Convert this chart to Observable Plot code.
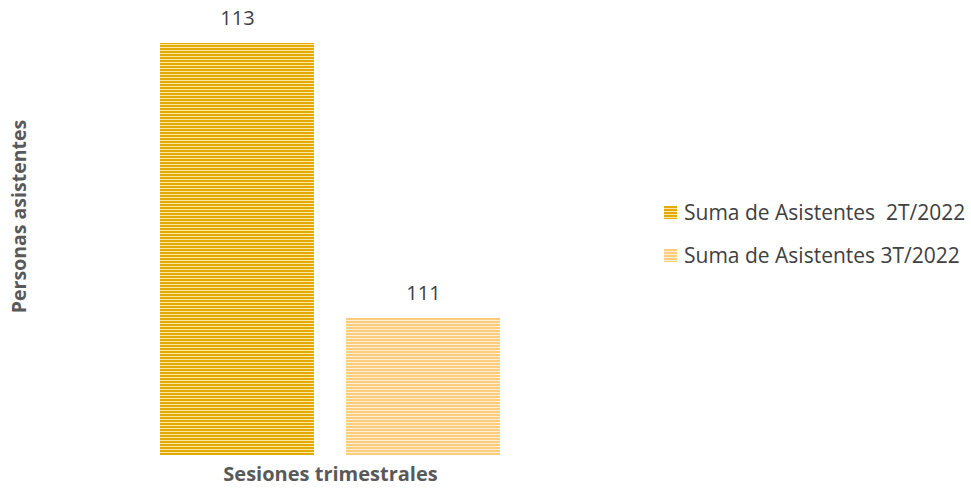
<!DOCTYPE html>
<html><head><meta charset="utf-8">
<script src="https://cdn.jsdelivr.net/npm/d3@7"></script>
<script src="https://cdn.jsdelivr.net/npm/@observablehq/plot@0.6"></script>
<style>
body{margin:0;background:#fff;font-family:"Open Sans",sans-serif;}
#wrap{position:relative;width:971px;height:489px;}
.item{position:absolute;left:664px;white-space:pre;display:flex;align-items:center;font-size:21px;line-height:28px;color:#404040;}
.sw{width:13px;height:13px;margin-right:7px;}
</style></head><body><div id="wrap"></div>
<script>
const categories = ["Suma de Asistentes  2T/2022", "Suma de Asistentes 3T/2022"];
const values = [113, 111];
const yDomain = [110, 113];
const baseColors = ["#E3AA00", "#FFCD7D"];
const stripeColors = ["#FBE6A6", "#FFEED4"];
const xTitle = "Sesiones trimestrales";
const yTitle = "Personas asistentes";

const data = categories.map((c, i) => ({category: c, value: values[i], fill: `url(#stripe${i})`}));

const chart = Plot.plot({
  width: 971, height: 489,
  marginLeft: 145, marginRight: 456, marginTop: 43, marginBottom: 34,
  x: {domain: categories, paddingInner: 0.172, paddingOuter: 0.08, axis: null},
  y: {domain: yDomain, axis: null},
  color: {type: "identity"},
  style: {fontFamily: "Open Sans", background: "#fff"},
  marks: [
    Plot.barY(data, {x: "category", y1: d => yDomain[0], y2: "value", fill: "fill"}),
    Plot.text(data, {x: "category", y: "value", text: d => String(d.value), dy: -25, fontSize: 20, fill: "#404040", lineAnchor: "middle"}),
    Plot.text([xTitle], {frameAnchor: "bottom", text: d => d, dy: 19, fontSize: 20, fontWeight: "bold", fill: "#595959", lineAnchor: "middle", textAnchor: "middle"}),
    Plot.text([yTitle], {frameAnchor: "left", text: d => d, dx: -126, dy: -33, rotate: -90, fontSize: 19.5, fontWeight: "bold", fill: "#595959", lineAnchor: "middle", textAnchor: "middle"})
  ]
});

const svg = d3.select(chart);
const defs = svg.insert("defs", ":first-child");
baseColors.forEach((c, i) => {
  const p = defs.append("pattern").attr("id", `stripe${i}`).attr("patternUnits", "userSpaceOnUse")
    .attr("width", 10).attr("height", 3);
  p.append("rect").attr("width", 10).attr("height", 3).attr("fill", c);
  p.append("rect").attr("y", 2).attr("width", 10).attr("height", 1).attr("fill", stripeColors[i]);
});

const wrap = document.getElementById("wrap");
wrap.appendChild(chart);
const tops = [198, 241];
categories.forEach((c, i) => {
  const it = document.createElement("div");
  it.className = "item";
  it.style.top = tops[i] + "px";
  const sw = document.createElement("span");
  sw.className = "sw";
  sw.style.background = `repeating-linear-gradient(to bottom, ${baseColors[i]} 0 2px, ${stripeColors[i]} 2px 3px)`;
  it.appendChild(sw);
  it.appendChild(document.createTextNode(c));
  wrap.appendChild(it);
});
</script>
</body></html>
